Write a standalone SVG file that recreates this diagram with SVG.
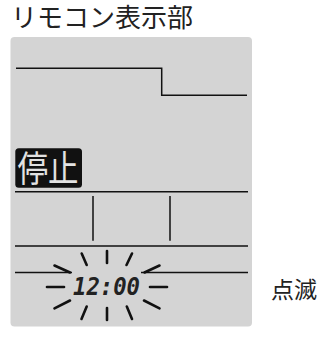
<svg xmlns="http://www.w3.org/2000/svg" width="327" height="338" viewBox="0 0 327 338">
<style>
.t{font-family:"Noto Sans CJK JP","Noto Sans",sans-serif;fill:#222}
.ln{stroke:#111;fill:none;stroke-width:1.5}
.ray{stroke:#111;stroke-width:2.6;stroke-linecap:round}
</style>
<rect width="327" height="338" fill="#fff"/>
<g id="title"><text class="t" x="11" y="26.5" font-size="26">リモコン表示部</text></g>
<g id="panel">
<rect x="10.5" y="37" width="241.5" height="289.5" rx="4" fill="#d4d4d4"/>
</g>
<g id="connectors">
<path class="ln" d="M16 68.3H161.7V95.3H247"/>
<line class="ln" x1="15" y1="191.7" x2="248" y2="191.7" stroke-width="2" stroke="#333"/>
<line class="ln" x1="93" y1="196" x2="93" y2="240.7" stroke-width="2"/>
<line class="ln" x1="170" y1="196" x2="170" y2="240.7" stroke-width="2"/>
<line class="ln" x1="15" y1="246" x2="248" y2="246" stroke-width="2"/>
<line class="ln" x1="15" y1="272.5" x2="72" y2="272.5" stroke-width="2"/>
<line class="ln" x1="141" y1="272.5" x2="248" y2="272.5" stroke-width="2"/>
</g>
<g id="stop">
<rect x="15.3" y="148.3" width="66.7" height="39.4" rx="3.5" fill="#111"/>
<text class="t" x="17.5" y="182" font-size="36" textLength="61" lengthAdjust="spacingAndGlyphs" style="fill:#e2e2e2">停止</text>
</g>
<g id="clock">
<text x="106.5" y="295" font-size="25" font-weight="bold" text-anchor="middle" font-style="italic" font-family="'DejaVu Sans Mono',monospace" fill="#222" textLength="67" lengthAdjust="spacingAndGlyphs">12:00</text>
<g class="rays">
<line class="ray" x1="107" y1="251" x2="107" y2="263"/>
<line class="ray" x1="107" y1="308" x2="107" y2="320"/>
<line class="ray" x1="81.7" y1="253.5" x2="86.7" y2="265"/>
<line class="ray" x1="132" y1="253.5" x2="126.5" y2="265"/>
<line class="ray" x1="54.5" y1="265.5" x2="70" y2="272.5"/>
<line class="ray" x1="159.5" y1="265.5" x2="144.5" y2="272.5"/>
<line class="ray" x1="47" y1="287" x2="64" y2="287"/>
<line class="ray" x1="150" y1="287" x2="167" y2="287"/>
<line class="ray" x1="54.5" y1="308.3" x2="70" y2="300.5"/>
<line class="ray" x1="159.5" y1="308.3" x2="144" y2="300.5"/>
<line class="ray" x1="81.5" y1="319" x2="86.7" y2="306.5"/>
<line class="ray" x1="132" y1="319" x2="126.8" y2="306.5"/>
</g>
</g>
<g id="blink-label"><text class="t" x="271" y="298" font-size="23">点滅</text></g>
</svg>
